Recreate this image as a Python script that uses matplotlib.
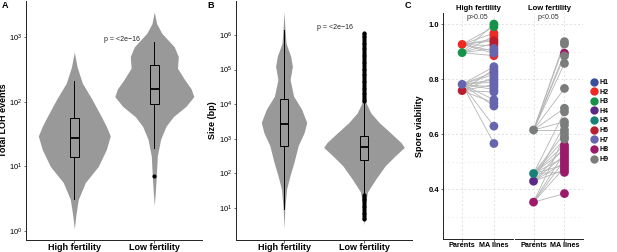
import matplotlib
import matplotlib.pyplot as plt
from matplotlib.ticker import FixedLocator, NullLocator
from matplotlib.lines import Line2D
import numpy as np

matplotlib.use('Agg')
plt.rcParams['font.family'] = ['Liberation Sans', 'DejaVu Sans']

# ---- panel A: total LOH events (violin profile in log10 units, half widths in x units)
loh_hi_log = [0.03, 0.24, 0.49, 0.75, 1.0, 1.26, 1.47, 1.62, 1.77, 2.03, 2.29, 2.54, 2.77]
loh_hi_hw = [0, 0.019, 0.05, 0.138, 0.30, 0.40, 0.45, 0.40, 0.338, 0.225, 0.10, 0.035, 0]
loh_lo_log = [0.39, 0.6, 0.85, 1.16, 1.42, 1.62, 1.77, 1.93, 2.08, 2.2, 2.35, 2.52, 2.7, 2.85, 3.06, 3.21, 3.39]
loh_lo_hw = [0, 0.0125, 0.025, 0.0375, 0.079, 0.146, 0.238, 0.396, 0.494, 0.46, 0.375, 0.29, 0.30, 0.25, 0.094, 0.029, 0]
loh_box = [  # whislo, q1, med, q3, whishi (log10)
    [0.49, 1.15, 1.44, 1.75, 2.32],
    [1.29, 1.96, 2.19, 2.57, 2.93],
]
loh_fliers = [[], [0.85]]

# ---- panel B: LOH size
size_hi_log = [0.4, 0.98, 1.55, 1.94, 2.33, 2.8, 3.18, 3.47, 3.85, 4.23, 4.71, 5.09, 5.38, 5.76, 6.14, 6.67]
size_hi_hw = [0, 0.01, 0.032, 0.076, 0.126, 0.177, 0.252, 0.284, 0.221, 0.12, 0.076, 0.105, 0.084, 0.025, 0.013, 0]
size_lo_log = [0.5, 1.07, 1.46, 1.84, 2.22, 2.51, 2.75, 2.89, 3.18, 3.47, 3.75, 4.04, 4.5, 5.0, 5.5, 6.19]
size_lo_hw = [0, 0.016, 0.042, 0.148, 0.265, 0.391, 0.504, 0.463, 0.328, 0.189, 0.084, 0.025, 0.013, 0.01, 0.008, 0]
size_box = [
    [0.98, 2.8, 3.44, 4.16, 6.14],
    [1.41, 2.39, 2.76, 3.08, 4.04],
]
size_fliers = [[], [4.08, 4.13, 4.18, 4.23, 4.28, 4.33, 4.38, 4.43, 4.48, 4.53, 4.58, 4.63,
                    4.68, 4.73, 4.78, 4.83, 4.88, 4.93, 4.98, 5.03, 5.08, 5.13, 5.18, 5.23,
                    5.28, 5.33, 5.38, 5.43, 5.48, 5.53, 5.58, 5.63, 5.68, 5.73, 5.78, 5.83,
                    5.88, 5.93, 5.98, 6.03, 6.06,
                    1.37, 1.32, 1.27, 1.22, 1.17, 1.12, 1.07, 1.02, 0.97, 0.92, 0.87,
                    0.82, 0.77, 0.72, 0.69]]

groups = ['High fertility', 'Low fertility']

# ---- panel C: spore viability, parents and MA lines
hap_names = ['H1', 'H2', 'H3', 'H4', 'H5', 'H6', 'H7', 'H8', 'H9']
hap_colors = ['#3a4f9c', '#ee2a24', '#17924b', '#5b2a86', '#188177',
              '#b71f31', '#6566ad', '#9c1a6a', '#7b7d7d']

hf_par_val = [0.927, 0.897, 0.782, 0.759]
hf_par_hap = ['H2', 'H3', 'H7', 'H6']
hf_ma_val = [1.001, 0.991, 0.968, 0.958, 0.946, 0.940, 0.932, 0.922, 0.912, 0.903, 0.895, 0.886,
             0.846, 0.836, 0.827, 0.818, 0.808, 0.798, 0.790, 0.781, 0.772, 0.763, 0.754,
             0.726, 0.714, 0.703, 0.630, 0.567]
hf_ma_hap = ['H3', 'H3', 'H2', 'H2', 'H2', 'H6', 'H6', 'H2', 'H7', 'H7', 'H7', 'H2',
             'H7', 'H7', 'H6', 'H7', 'H7', 'H7', 'H7', 'H7', 'H7', 'H7', 'H7',
             'H7', 'H7', 'H7', 'H7', 'H7']
hf_ma_par = [1, 0, 0, 1, 0, 0, 1, 0, 1, 0, 0, 1,
             2, 3, 2, 2, 3, 2, 2, 3, 2, 2, 3,
             2, 3, 2, 2, 2]

lf_par_val = [0.616, 0.458, 0.430, 0.354]
lf_par_hap = ['H9', 'H5', 'H4', 'H8']
lf_ma_val = [0.937, 0.928, 0.895, 0.885, 0.858, 0.767, 0.695, 0.682, 0.646, 0.634, 0.616,
             0.604, 0.592, 0.583,
             0.561, 0.552, 0.543, 0.534, 0.525, 0.516, 0.507, 0.498, 0.489, 0.480,
             0.471, 0.462, 0.385]
lf_ma_hap = ['H9', 'H9', 'H8', 'H9', 'H9', 'H9', 'H9', 'H9', 'H9', 'H9', 'H9',
             'H9', 'H9', 'H9',
             'H8', 'H8', 'H8', 'H8', 'H8', 'H8', 'H8', 'H8', 'H8', 'H8',
             'H8', 'H8', 'H8']
lf_ma_par = [0, 0, 0, 0, 0, 0, 0, 1, 0, 2, 0,
             1, 3, 1,
             1, 2, 1, 3, 2, 1, 3, 2, 1, 3,
             2, 1, 3]

W, H = 617, 252
fig = plt.figure(figsize=(W / 100, H / 100), dpi=100)

def px_axes(left, top, right, bottom):
    return fig.add_axes([left / W, 1 - bottom / H, (right - left) / W, (bottom - top) / H])

VIOLIN = '#999999'

def style_axes(ax):
    ax.spines['top'].set_visible(False)
    ax.spines['right'].set_visible(False)
    for s in ('left', 'bottom'):
        ax.spines[s].set_linewidth(0.7)
        ax.spines[s].set_color('#222222')
    ax.tick_params(length=1.8, width=0.5, color='#333333', pad=1)
    ax.tick_params(axis='x', pad=0.6)

def violin_panel(ax, profiles, boxes, fliers, yticks, ylabel, ylim):
    ax.set_yscale('log')
    for i, (logs, hw) in enumerate(profiles):
        pos = i + 1
        y = 10 ** np.array(logs)
        hw = np.array(hw)
        ax.fill_betweenx(y, pos - hw, pos + hw, color=VIOLIN, lw=0, zorder=1)
    stats = []
    for b in boxes:
        stats.append({'whislo': 10 ** b[0], 'q1': 10 ** b[1], 'med': 10 ** b[2],
                      'q3': 10 ** b[3], 'whishi': 10 ** b[4], 'fliers': []})
    ax.bxp(stats, positions=[1, 2], widths=0.11, patch_artist=True, showcaps=False,
           boxprops=dict(facecolor=VIOLIN, edgecolor='black', lw=0.7),
           whiskerprops=dict(color='black', lw=0.7),
           medianprops=dict(color='black', lw=1.3),
           manage_ticks=False, zorder=2)
    for i, f in enumerate(fliers):
        if f:
            ax.plot([i + 1] * len(f), 10 ** np.array(f), 'o', color='black', ms=3.0,
                    mec='none', zorder=3)
    ax.set_ylim(10 ** ylim[0], 10 ** ylim[1])
    ax.yaxis.set_major_locator(FixedLocator([10 ** k for k in yticks]))
    ax.yaxis.set_minor_locator(NullLocator())
    ax.tick_params(axis='y', labelsize=5.5)
    ax.set_xticks([1, 2])
    ax.set_xticklabels(groups, fontsize=6.5, fontweight='bold', color='black')
    ax.set_ylabel(ylabel, fontsize=6.5, fontweight='bold', labelpad=1)
    style_axes(ax)

# panel A
axA = px_axes(26.3, 1, 202.3, 240)
violin_panel(axA, [(loh_hi_log, loh_hi_hw), (loh_lo_log, loh_lo_hw)], loh_box, loh_fliers,
             [0, 1, 2, 3], 'Total LOH events', (-0.14, 3.56))
axA.set_xlim(0.4, 2.6)
axA.text(1.6, 10 ** 2.96, 'p = <2e\u221216', fontsize=5, ha='center', va='center', color='#222222')

# panel B
axB = px_axes(236, 1, 412, 239.5)
violin_panel(axB, [(size_hi_log, size_hi_hw), (size_lo_log, size_lo_hw)], size_box, size_fliers,
             [1, 2, 3, 4, 5, 6], 'Size (bp)', (0.09, 6.98))
axB.set_xlim(0.4, 2.6)
axB.text(1.64, 10 ** 6.21, 'p = <2e\u221216', fontsize=5, ha='center', va='center', color='#222222')

# panel C
def pair_panel(ax, title, ptext, par_val, par_hap, ma_val, ma_hap, ma_par, first):
    for v, p in zip(ma_val, ma_par):
        ax.plot([1, 2], [par_val[p], v], color='#b4b4b4', lw=0.6, zorder=1)
    # points drawn haplotype by haplotype
    for h, c in zip(hap_names, hap_colors):
        yp = [v for v, g in zip(par_val, par_hap) if g == h]
        ym = [v for v, g in zip(ma_val, ma_hap) if g == h]
        ax.scatter([1] * len(yp) + [2] * len(ym), yp + ym, s=40, color=c,
                   edgecolors='none', zorder=3)
    ax.set_xlim(0.4, 2.6)
    ax.set_ylim(0.22, 1.04)
    ax.set_yticks([0.4, 0.6, 0.8, 1.0])
    ax.set_yticks([0.3, 0.5, 0.7, 0.9], minor=True)
    ax.set_xticks([1, 2])
    ax.set_xticklabels(['Parents', 'MA lines'], fontsize=5.2, fontweight='bold')
    ax.grid(True, which='major', linestyle=(0, (3, 3)), color='#d6d6d6', lw=0.5, zorder=0)
    ax.grid(True, which='minor', axis='y', linestyle=(0, (3, 3)), color='#ececec', lw=0.5, zorder=0)
    ax.set_axisbelow(True)
    ax.set_title(title, fontsize=5.5, fontweight='bold', pad=2.5)
    ax.text(1.47, 1.023, ptext, fontsize=5, ha='center', va='center', color='#333333')
    style_axes(ax)
    ax.tick_params(axis='y', which='minor', length=0)
    if first:
        ax.set_yticklabels(['0.4', '0.6', '0.8', '1.0'], fontsize=5.5, fontweight='bold')
        ax.set_ylabel('Spore viability', fontsize=6.5, fontweight='bold', labelpad=3)
    else:
        ax.spines['left'].set_visible(False)
        ax.tick_params(axis='y', length=0, labelleft=False)

axC1 = px_axes(443, 13.3, 513, 239)
pair_panel(axC1, 'High fertility', 'p>0.05', hf_par_val, hf_par_hap,
           hf_ma_val, hf_ma_hap, hf_ma_par, True)
axC2 = px_axes(515, 13.3, 583, 239)
pair_panel(axC2, 'Low fertility', 'p<0.05', lf_par_val, lf_par_hap,
           lf_ma_val, lf_ma_hap, lf_ma_par, False)

handles = [Line2D([], [], marker='o', ls='none', color=c, ms=6, mec='none') for c in hap_colors]
fig.legend(handles, hap_names, loc='center left', bbox_to_anchor=(591 / W, 1 - 121 / H),
           frameon=False, prop={'size': 5, 'weight': 'bold'}, handlelength=1.0,
           handletextpad=0.2, labelspacing=0.38, borderpad=0, borderaxespad=0)

# panel letters
for x, lab in [(2, 'A'), (207, 'B'), (405, 'C')]:
    fig.text(x / W, 1 - 0.5 / H, lab, fontsize=6.5, fontweight='bold', va='top', ha='left')

fig.savefig('out.png', dpi=100)
plt.close(fig)
